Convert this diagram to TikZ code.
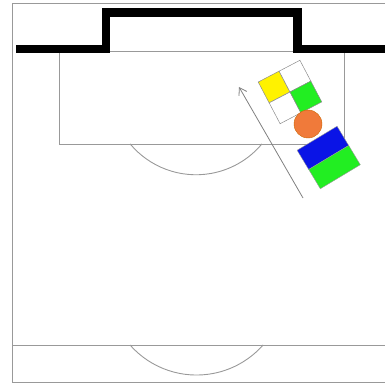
\documentclass[tikz,border=0pt]{standalone}
\usetikzlibrary{arrows.meta}
\begin{document}
\begin{tikzpicture}[x=1pt,y=-1pt,
  fieldline/.style={draw=black!40,line width=0.9pt},
  cell/.style={draw=black!45,line width=0.5pt,minimum size=23.5pt,inner sep=0pt,rotate=27.6},
  halfbox/.style={draw=black!40,line width=0.4pt,minimum width=46.6pt,minimum height=22.5pt,inner sep=0pt,rotate=31},
  ball/.style={circle,draw=orange!80!black,line width=0.4pt,fill=ballor,minimum size=28pt,inner sep=0pt},
  run/.style={draw=black!50,line width=0.8pt,-{Straight Barb[length=7pt,width=9pt]}}]
\definecolor{ballor}{HTML}{F07A3A}
\definecolor{pyellow}{HTML}{FFF200}
\definecolor{pgreen}{HTML}{22EE22}
\definecolor{pblue}{HTML}{0A14E6}
\useasboundingbox (0,0) rectangle (385,385);
\begin{scope}
\clip (0,0) rectangle (385,385);
% field
\draw[fieldline] (12,3) rectangle (395,382);
\draw[fieldline] (12,345) -- (395,345);
\draw[fieldline] (59,51) rectangle (344,144);
\draw[fieldline] (130.2,144) arc[start angle=140.1,end angle=39.9,radius=85.8];
\draw[fieldline] (130,345) arc[start angle=138.6,end angle=41.4,radius=88.7];
% goal
\draw[line width=8.5pt,line join=miter] (16,49) -- (106,49) -- (106,12.5) -- (297.5,12.5) -- (297.5,49) -- (395,49);
\end{scope}
% players
\node[cell,fill=pyellow] (c1) at (274.1,87.0) {};
\node[cell,fill=white] (c2) at (294.95,76.15) {};
\node[cell,fill=white] (c3) at (285.05,107.85) {};
\node[cell,fill=pgreen] (c4) at (305.85,96.95) {};
\node[ball] (b) at (308,124) {};
\node[halfbox,fill=pblue] (r1) at (322.9,147.9) {};
\node[halfbox,fill=pgreen] (r2) at (334.5,167.1) {};
% run
\coordinate (s) at (303,198);
\coordinate (e) at (239,87);
\draw[run] (s) -- (e);
\end{tikzpicture}
\end{document}
